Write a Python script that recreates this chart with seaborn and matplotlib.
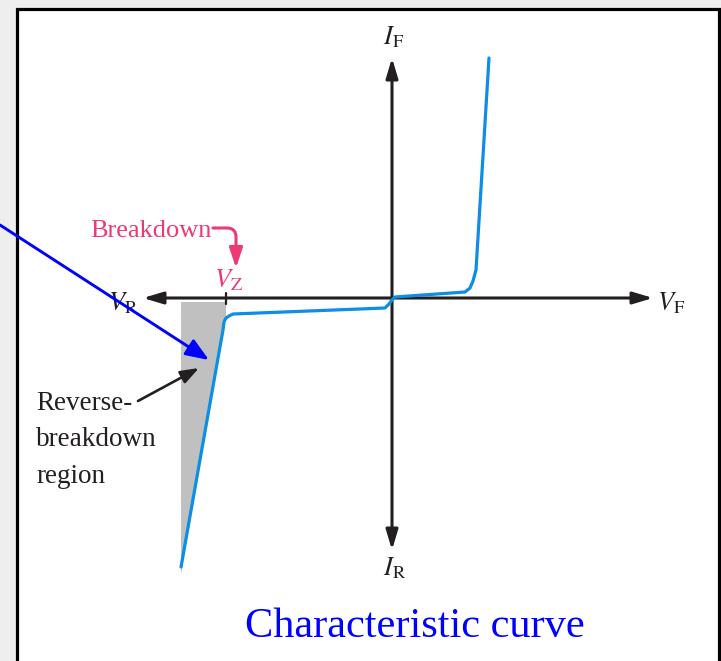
import matplotlib
matplotlib.use("Agg")
import matplotlib.pyplot as plt
import seaborn as sns
from matplotlib.patches import Rectangle

# --- data: diode characteristic (units relative to origin, I up positive) ---
curve_v = [97, 84, 81, 78, 73, 3, 0, -3, -7, -159, -163, -166, -168, -169, -211]
curve_i = [240, 28, 17, 10, 6, 1, -2, -6, -10, -16, -18, -20, -24, -32, -269]

shade_v = [-211, -166, -166, -168, -169, -211]
shade_i = [-4, -4, -20, -24, -32, -277]

axis_h = [-249, 261]
axis_v = [240, -252]
vz_tick_v = -166
vz_tick_i = [5, -6]

BG = "#eeeeee"
DARK = "#231f20"
PINK = "#ec3a72"
CURVE = "#0b8ee3"
BLUE = "#0000ff"
SHADE = "#c0c0c0"

sns.set_theme(style="white")
plt.rcParams["mathtext.fontset"] = "stix"
plt.rcParams["font.family"] = ["Liberation Serif", "DejaVu Serif"]

fig = plt.figure(figsize=(7.21, 6.61), dpi=100, facecolor=BG)
ax = fig.add_axes([0, 0, 1, 1])
ax.set_facecolor("none")
ax.set_xlim(-392, 329)
ax.set_ylim(-363, 298)
ax.axis("off")

# white panel with black frame
ax.add_patch(Rectangle((17 / 721, -0.02), 702 / 721, 1 - 9 / 661 + 0.02,
                       transform=ax.transAxes, facecolor="white",
                       edgecolor="black", linewidth=2.3, zorder=0))

# shaded reverse-breakdown region
ax.fill(shade_v, shade_i, color=SHADE, linewidth=0, zorder=1)

# axes arrows
arrow_kw = dict(arrowstyle="-|>,head_length=12,head_width=3.6", color=DARK,
                lw=2.2, shrinkA=0, shrinkB=0, mutation_scale=1)
for tip in [(axis_h[0], 0), (axis_h[1], 0)]:
    ax.annotate("", xy=tip, xytext=(0, 0), arrowprops=arrow_kw, zorder=2)
for tip in [(0, axis_v[0]), (0, axis_v[1])]:
    ax.annotate("", xy=tip, xytext=(0, 0), arrowprops=arrow_kw, zorder=2)

ax.plot([vz_tick_v, vz_tick_v], vz_tick_i, color=DARK, lw=1.6, zorder=2)

# characteristic curve
sns.lineplot(x=curve_v, y=curve_i, sort=False, estimator=None, ax=ax,
             color=CURVE, linewidth=2.3, solid_joinstyle="round", zorder=3)

# axis labels
lab = dict(fontsize=19, color=DARK, ha="center", va="center")
ax.text(2, 261, r"$I_{\mathrm{F}}$", **lab)
ax.text(3, -270, r"$I_{\mathrm{R}}$", **lab)
ax.text(279, -5, r"$V_{\mathrm{F}}$", **lab)
ax.text(-269, -5, r"$V_{\mathrm{R}}$", **lab)
ax.text(-163, 18, r"$V_{\mathrm{Z}}$", fontsize=19, color=PINK,
        ha="center", va="center")

# breakdown label and bent arrow
ax.text(-180, 61, "Breakdown", fontsize=19, color=PINK, ha="right", va="baseline")
ax.annotate("", xy=(-156, 30), xytext=(-179, 70),
            arrowprops=dict(arrowstyle="-|>,head_length=12,head_width=4",
                            color=PINK, lw=2.2, shrinkA=0, shrinkB=0,
                            mutation_scale=1,
                            connectionstyle="angle,angleA=0,angleB=90,rad=9"),
            zorder=4)

# reverse-breakdown region label
ax.text(-356, -93, "Reverse-\nbreakdown\nregion", fontsize=19.5, color=DARK,
        ha="left", va="top", linespacing=1.6)
ax.annotate("", xy=(-193, -70), xytext=(-254, -103),
            arrowprops=dict(arrowstyle="-|>,head_length=11,head_width=4",
                            color=DARK, lw=1.9, shrinkA=0, shrinkB=0,
                            mutation_scale=1), zorder=4)

# long blue pointer arrow
ax.annotate("", xy=(-183, -62), xytext=(-392, 73),
            arrowprops=dict(arrowstyle="-|>,head_length=14,head_width=5.5",
                            color=BLUE, lw=2.1, shrinkA=0, shrinkB=0,
                            mutation_scale=1),
            annotation_clip=False, zorder=5)

ax.text(23, -339, "Characteristic curve", fontsize=30.5, color=BLUE,
        ha="center", va="baseline")

fig.savefig("out.png", dpi=100, facecolor=BG)
